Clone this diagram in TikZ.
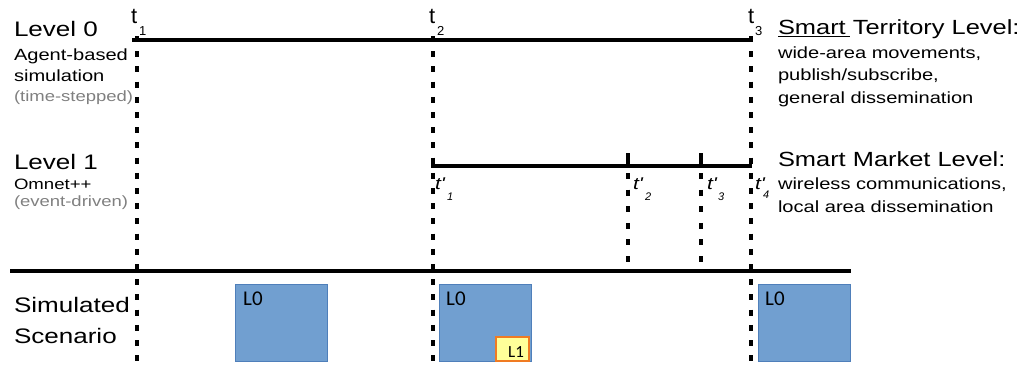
\documentclass[tikz,border=0pt]{standalone}
\usepackage{fontspec}
\setmainfont{Liberation Sans}
\newfontfamily\calib{Carlito}
\usepackage{graphicx}
\newcommand\sx[1]{\scalebox{1.24}[1]{#1}}
\newcommand\pr{\textquotesingle}
\definecolor{boxblue}{HTML}{719FD0}
\definecolor{boxedge}{HTML}{4F7FBA}
\definecolor{l1fill}{HTML}{FFFF99}
\definecolor{l1edge}{HTML}{F07B22}
\definecolor{greytext}{HTML}{808080}
\begin{document}
\begin{tikzpicture}[x=1pt,y=-1pt,
  txt/.style={anchor=base west, inner sep=0pt, outer sep=0pt},
  bigt/.style={txt, font=\fontsize{21}{25}\selectfont},
  rbigt/.style={txt, font=\fontsize{20.5}{25}\selectfont},
  midt/.style={txt, font=\fontsize{16.2}{19}\selectfont},
  smallt/.style={txt, font=\fontsize{15}{18}\selectfont},
  greyt/.style={txt, font=\fontsize{14.9}{18}\selectfont, text=greytext},
  tlab/.style={txt, font=\fontsize{22}{25}\selectfont},
  tsub/.style={txt, font=\fontsize{13}{15}\selectfont},
  tplab/.style={txt, font=\fontsize{17}{21}\selectfont\itshape},
  tpsub/.style={txt, font=\fontsize{11}{13}\selectfont\itshape},
  levelline/.style={line width=3.8pt},
  vdash/.style={line width=3.5pt, dash pattern=on 6pt off 9.2pt},
  vdashb/.style={line width=3.5pt, dash pattern=on 6pt off 10.6pt},
  vtick/.style={line width=3.5pt},
  bluebox/.style={draw=boxedge, fill=boxblue, line width=0.8pt, anchor=north west,
    minimum width=92pt, minimum height=77pt, inner sep=0pt, outer sep=0pt},
  l1box/.style={draw=l1edge, fill=l1fill, line width=1.3pt, anchor=north west,
    minimum width=33pt, minimum height=24pt, inner sep=0pt, outer sep=0pt},
  boxlab/.style={anchor=base west, inner sep=0pt, font=\calib\fontsize{21}{24}\selectfont},
  l1lab/.style={anchor=base west, inner sep=0pt, font=\calib\fontsize{17}{20}\selectfont}
]
\useasboundingbox (0,0) rectangle (1028,365);

% coordinates
\coordinate (l0a) at (132,40);
\coordinate (l0b) at (752,40);
\coordinate (l1a) at (431,166);
\coordinate (l1b) at (752,166);
\coordinate (sca) at (10,271);
\coordinate (scb) at (851,271);
\coordinate (v1a) at (137,36);
\coordinate (v1b) at (137,365);
\coordinate (v2a) at (433,36);
\coordinate (v2b) at (433,365);
\coordinate (v3a) at (751,36);
\coordinate (v3b) at (751,365);
\coordinate (v4t) at (628,153);
\coordinate (v4m) at (628,166);
\coordinate (v4a) at (628,173);
\coordinate (v4b) at (628,263);
\coordinate (v5t) at (701,153);
\coordinate (v5m) at (701,166);
\coordinate (v5a) at (701,173);
\coordinate (v5b) at (701,263);

% boxes
\node[bluebox] (b1) at (235,284) {};
\node[bluebox] (b2) at (439,284) {};
\node[bluebox] (b3) at (758,284) {};
\node[l1box] (b4) at (496,337) {};
\node[boxlab] (b1l) at (243,305) {L0};
\node[boxlab] (b2l) at (446,305) {L0};
\node[boxlab] (b3l) at (765,305) {L0};
\node[l1lab] (b4l) at (508,357) {L1};

% lines
\draw[levelline] (l0a) -- (l0b);
\draw[levelline] (l1a) -- (l1b);
\draw[levelline] (sca) -- (scb);
\draw[vdash] (v1a) -- (v1b);
\draw[vdash] (v2a) -- (v2b);
\draw[vdash] (v3a) -- (v3b);
\draw[vtick] (v4t) -- (v4m);
\draw[vdashb] (v4a) -- (v4b);
\draw[vtick] (v5t) -- (v5m);
\draw[vdashb] (v5a) -- (v5b);

% left texts
\node[bigt] (lev0) at (14,36) {\sx{Level 0}};
\node[midt] (ab) at (14,60) {\sx{Agent-based}};
\node[midt] (sim) at (14,81) {\sx{simulation}};
\node[greyt] (ts) at (14,101) {\sx{(time-stepped)}};
\node[bigt] (lev1) at (14,169) {\sx{Level 1}};
\node[smallt] (om) at (14,189) {\sx{Omnet++}};
\node[greyt] (ed) at (14,206) {\sx{(event-driven)}};
\node[bigt] (simu) at (14,312) {\sx{Simulated}};
\node[bigt] (scen) at (14,343) {\sx{Scenario}};

% right texts
\node[rbigt] (stl) at (778,34) {\sx{Smart Territory Level:}};
\draw[line width=1.6pt] (stl.base west) ++(0,2.5) coordinate (ula) -- ++(72,0) coordinate (ulb);
\node[midt] (r1) at (778,58) {\sx{wide-area movements,}};
\node[midt] (r2) at (778,80) {\sx{publish/subscribe,}};
\node[midt] (r3) at (778,103) {\sx{general dissemination}};
\node[rbigt] (sml) at (778,166) {\sx{Smart Market Level:}};
\node[midt] (r4) at (778,189) {\sx{wireless communications,}};
\node[midt] (r5) at (778,212) {\sx{local area dissemination}};

% t labels
\node[tlab] (t1) at (131,23) {t};
\node[tsub] (t1s) at (139,35) {1};
\node[tlab] (t2) at (429,23) {t};
\node[tsub] (t2s) at (437,35) {2};
\node[tlab] (t3) at (748,23) {t};
\node[tsub] (t3s) at (755,35) {3};

\node[tplab] (tp1) at (435,189) {\sx{t\pr}};
\node[tpsub] (tp1s) at (447,200) {1};
\node[tplab] (tp2) at (633,189) {\sx{t\pr}};
\node[tpsub] (tp2s) at (645,200) {2};
\node[tplab] (tp3) at (707,189) {\sx{t\pr}};
\node[tpsub] (tp3s) at (718,200) {3};
\node[tplab] (tp4) at (755,189) {\sx{t\pr}};
\node[tpsub] (tp4s) at (763,198) {4};
\end{tikzpicture}
\end{document}
